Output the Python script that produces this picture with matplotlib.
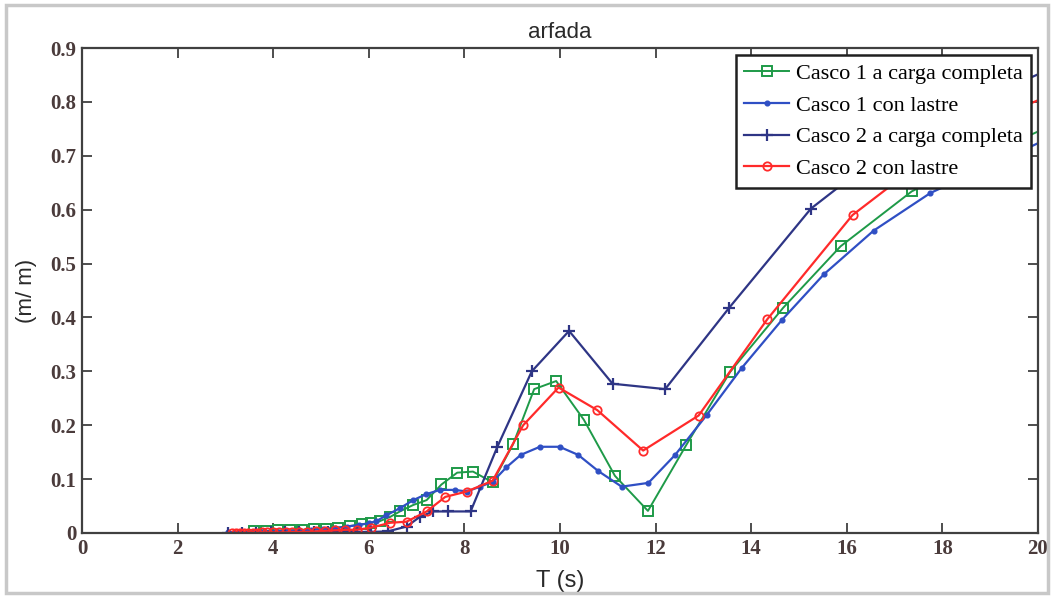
import matplotlib
matplotlib.use("Agg")
import matplotlib.pyplot as plt
from matplotlib.patches import Rectangle

# periodo T (s) y respuesta de arfada (m/m) para cada caso
t_c1_carga = [3.60, 3.85, 4.10, 4.35, 4.60, 4.85, 5.10, 5.35, 5.60, 5.85, 6.05, 6.23,
              6.45, 6.65, 6.93, 7.21, 7.52, 7.85, 8.18, 8.59, 9.02, 9.46, 9.92, 10.50,
              11.15, 11.84, 12.64, 13.56, 14.67, 15.87, 17.36, 19.00, 21.00]
r_c1_carga = [0.004, 0.004, 0.005, 0.005, 0.006, 0.007, 0.008, 0.010, 0.013, 0.016, 0.019, 0.022,
              0.030, 0.040, 0.052, 0.061, 0.090, 0.112, 0.114, 0.094, 0.165, 0.267, 0.282, 0.210,
              0.106, 0.041, 0.163, 0.299, 0.418, 0.532, 0.634, 0.705, 0.785]

t_c1_lastre = [3.05, 3.30, 3.55, 3.80, 4.05, 4.30, 4.55, 4.80, 5.05, 5.30, 5.55, 5.80,
               6.00, 6.16, 6.37, 6.65, 6.93, 7.20, 7.49, 7.80, 8.05, 8.33, 8.59, 8.88,
               9.18, 9.58, 9.99, 10.38, 10.80, 11.29, 11.85, 12.41, 13.07, 13.80, 14.64,
               15.52, 16.56, 17.75, 19.20, 21.00]
r_c1_lastre = [0.001, 0.002, 0.002, 0.003, 0.003, 0.004, 0.005, 0.006, 0.007, 0.009, 0.012, 0.015,
               0.018, 0.022, 0.033, 0.046, 0.061, 0.072, 0.080, 0.080, 0.077, 0.086, 0.095, 0.122,
               0.145, 0.160, 0.160, 0.145, 0.115, 0.086, 0.093, 0.145, 0.219, 0.306, 0.395,
               0.480, 0.561, 0.631, 0.690, 0.765]

t_c2_carga = [3.05, 3.35, 3.65, 3.95, 4.25, 4.55, 4.85, 5.15, 5.45, 5.75, 6.05, 6.40,
              6.79, 7.07, 7.35, 7.66, 8.13, 8.69, 9.41, 10.19, 11.10, 12.20, 13.54,
              15.25, 17.40, 21.00]
r_c2_carga = [0.000, 0.000, 0.000, 0.001, 0.001, 0.001, 0.001, 0.002, 0.002, 0.002, 0.002, 0.003,
              0.012, 0.030, 0.040, 0.040, 0.040, 0.160, 0.300, 0.375, 0.277, 0.267, 0.418,
              0.602, 0.750, 0.890]

t_c2_lastre = [3.14, 3.22, 3.30, 3.38, 3.47, 3.57, 3.66, 3.77, 3.88, 4.00, 4.12, 4.26,
               4.40, 4.55, 4.71, 4.89, 5.08, 5.29, 5.51, 5.75, 6.05, 6.45, 6.79, 7.21,
               7.60, 8.05, 8.59, 9.23, 9.97, 10.78, 11.74, 12.90, 14.34, 16.12, 18.40, 21.30]
r_c2_lastre = [0.000, 0.000, 0.000, 0.000, 0.000, 0.000, 0.000, 0.001, 0.001, 0.001, 0.001, 0.001,
               0.002, 0.002, 0.002, 0.003, 0.004, 0.005, 0.006, 0.006, 0.010, 0.019, 0.021, 0.040,
               0.067, 0.077, 0.097, 0.200, 0.270, 0.228, 0.153, 0.218, 0.397, 0.590, 0.745, 0.850]

nombres = ["Casco 1 a carga completa", "Casco 1 con lastre",
           "Casco 2 a carga completa", "Casco 2 con lastre"]

x_ticks = [0, 2, 4, 6, 8, 10, 12, 14, 16, 18, 20]
y_ticks = [0, 0.1, 0.2, 0.3, 0.4, 0.5, 0.6, 0.7, 0.8, 0.9]

fig = plt.figure(figsize=(10.54, 5.98), dpi=100)
ax = fig.add_axes([0.0778, 0.1087, 0.9070, 0.8110])

# marco gris alrededor de la figura
fig.patches.append(Rectangle((0.006, 0.008), 0.988, 0.984, transform=fig.transFigure,
                             fill=False, edgecolor="#c8c8c8", linewidth=2.5))

ax.plot(t_c1_carga, r_c1_carga, color="#1e9a48", lw=1.4, marker="s", ms=6.5,
        mfc="none", mew=1.4, label=nombres[0])
ax.plot(t_c1_lastre, r_c1_lastre, color="#2f4fc4", lw=1.6, marker="o", ms=3.4,
        label=nombres[1])
ax.plot(t_c2_carga, r_c2_carga, color="#2e3585", lw=1.6, marker="+", ms=8,
        mew=1.6, label=nombres[2])
ax.plot(t_c2_lastre, r_c2_lastre, color="#ff2a2a", lw=1.6, marker="o", ms=6,
        mfc="none", mew=1.3, label=nombres[3])

ax.set_xlim(0, 20)
ax.set_ylim(0, 0.9)
ax.set_xticks(x_ticks)
ax.set_yticks(y_ticks)
ax.set_xticklabels([str(v) for v in x_ticks])
ax.set_yticklabels(["0"] + ["%.1f" % v for v in y_ticks[1:]])

for lab in ax.get_xticklabels() + ax.get_yticklabels():
    lab.set_fontfamily("Liberation Serif")
    lab.set_fontsize(15)
    lab.set_fontweight("bold")
    lab.set_color("#4a3b3b")

ax.tick_params(direction="in", length=7, width=1.3, color="#404040",
               top=True, right=True, pad=4)
for s in ax.spines.values():
    s.set_color("#404040")
    s.set_linewidth(1.6)

ax.set_title("arfada", fontfamily="Liberation Sans", fontsize=16, color="#2a2a2a", pad=7)
ax.set_xlabel("T (s)", fontfamily="Liberation Sans", fontsize=17, color="#2a2a2a", labelpad=8)
ax.set_ylabel("(m/ m)", fontfamily="Liberation Sans", fontsize=16, color="#2a2a2a", labelpad=10)

leg = ax.legend(loc="upper right", prop={"family": "Liberation Serif", "size": 16},
                fancybox=False, framealpha=1, edgecolor="#202020", borderaxespad=0.3,
                handlelength=2.0, handletextpad=0.3, labelspacing=0.5, borderpad=0.4)
leg.get_frame().set_linewidth(1.8)

fig.savefig("out.png", dpi=100)
